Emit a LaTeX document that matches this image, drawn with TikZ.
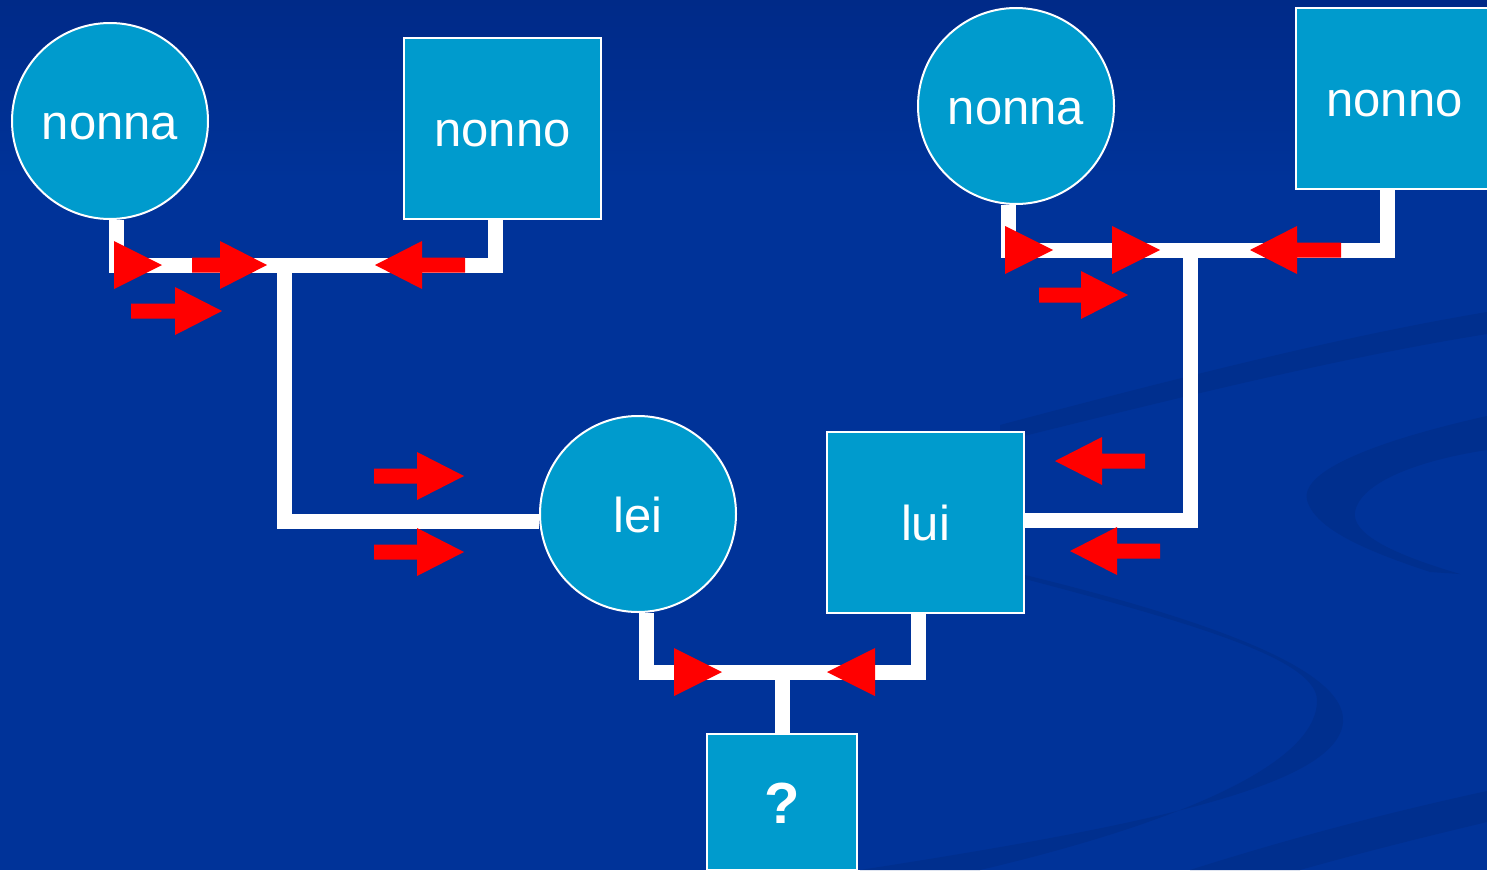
\documentclass[tikz,border=0pt]{standalone}
\usepackage{fontspec}
\setmainfont{Liberation Sans}
\definecolor{bgblue}{RGB}{0,51,153}
\definecolor{topblue}{RGB}{0,42,136}
\definecolor{swoosh}{RGB}{0,47,142}
\definecolor{nodefill}{RGB}{0,155,205}
\definecolor{arrowred}{RGB}{255,0,0}
\pgfdeclarelayer{bg}
\pgfdeclarelayer{wires}
\pgfsetlayers{bg,wires,main}
\tikzset{
  person/.style={circle, minimum size=196pt, inner sep=0pt, draw=white, line width=2pt, fill=nodefill, text=white,
    font=\fontsize{49}{56}\selectfont, text height=36pt, text depth=0pt},
  man/.style={rectangle, minimum width=197pt, minimum height=181pt, inner sep=0pt, draw=white, line width=2pt, fill=nodefill, text=white,
    font=\fontsize{49}{56}\selectfont, text height=36pt, text depth=0pt},
  wire/.style={draw=white, line width=15pt, line join=miter},
  shaft/.store in=\shaftlen, shaft=44,
  tri/.pic={\fill[arrowred] (-48,-24) -- (0,0) -- (-48,24) -- cycle;},
  blk/.pic={\fill[arrowred] (-47-\shaftlen,-7.5) -- (-47,-7.5) -- (-47,-24) -- (0,0) -- (-47,24) -- (-47,7.5) -- (-47-\shaftlen,7.5) -- cycle;}
}
\begin{document}
\begin{tikzpicture}[x=1pt,y=-1pt]
\useasboundingbox (0,0) rectangle (1487,870);
\begin{pgfonlayer}{bg}
  \fill[bgblue] (0,0) rectangle (1487,870);
  \shade[top color=topblue, bottom color=bgblue] (0,0) rectangle (1487,180);
  % faint swooshes
  \fill[swoosh] (1000,425) .. controls (1200,372) and (1350,335) .. (1487,312) -- (1487,334) .. controls (1350,356) and (1200,392) .. (1000,442) -- cycle;
  \fill[swoosh] (1487,416) .. controls (1380,440) and (1300,470) .. (1307,500) .. controls (1315,530) and (1370,552) .. (1430,572) -- (1460,574) .. controls (1385,552) and (1352,532) .. (1355,512) .. controls (1360,482) and (1420,460) .. (1487,450) -- cycle;
  \fill[swoosh] (1025,575) .. controls (1200,618) and (1347,668) .. (1343,722) .. controls (1338,785) and (1150,825) .. (860,870) -- (980,870) .. controls (1150,830) and (1318,770) .. (1317,700) .. controls (1316,660) and (1200,625) .. (1025,579) -- cycle;
  \fill[swoosh] (1190,870) .. controls (1300,835) and (1400,810) .. (1487,791) -- (1487,822) .. controls (1420,838) and (1360,853) .. (1300,870) -- cycle;
\end{pgfonlayer}

% people
\node[person] (nonnaL) at (110,121) {nonna};
\node[man] (nonnoL) at (502.5,128.5) {nonno};
\node[person] (nonnaR) at (1016,106) {nonna};
\node[man] (nonnoR) at (1394.5,98) {nonno};
\node[person] (lei) at (638,514) {lei};
\node[man] (lui) at (925.5,522) {lui};
\node[man, minimum width=150pt, minimum height=136pt, font=\fontsize{58}{64}\selectfont\bfseries, text height=43pt] (figlio) at (782,802) {?};

% junctions
\coordinate (jL) at (284,265);
\coordinate (jR) at (1190,250);
\coordinate (jB) at (782,672);

\begin{pgfonlayer}{wires}
  \draw[wire] ([xshift=6pt]nonnaL.south) |- ([xshift=-7pt]nonnoL.south |- jL) -- ([xshift=-7pt]nonnoL.south);
  \draw[wire] (jL) |- ([yshift=-7pt]lei.west);
  \draw[wire] ([xshift=-8pt]nonnaR.south) |- ([xshift=-7pt]nonnoR.south |- jR) -- ([xshift=-7pt]nonnoR.south);
  \draw[wire] (jR) |- ([yshift=2pt]lui.east);
  \draw[wire] ([xshift=8pt]lei.south) |- ([xshift=-7pt]lui.south |- jB) -- ([xshift=-7pt]lui.south);
  \draw[wire] (jB) -- (figlio.north);
\end{pgfonlayer}

% red arrows, left grandparents
\pic at (162,265) {tri};
\pic[shaft=28] at (267,265) {blk};
\pic[shaft=44] at (222,311) {blk};
\pic[rotate=180, shaft=43] at (375,265) {blk};
% towards lei
\pic[shaft=43] at (464,476) {blk};
\pic[shaft=43] at (464,552) {blk};
% towards child
\pic at (722,672) {tri};
\pic[rotate=180] at (827,672) {tri};
% right grandparents
\pic at (1053,250) {tri};
\pic at (1160,250) {tri};
\pic[rotate=180, shaft=44] at (1250,250) {blk};
\pic[shaft=42] at (1128,295) {blk};
% towards lui
\pic[rotate=180, shaft=43] at (1055,461) {blk};
\pic[rotate=180, shaft=43] at (1070,551) {blk};
\end{tikzpicture}
\end{document}
